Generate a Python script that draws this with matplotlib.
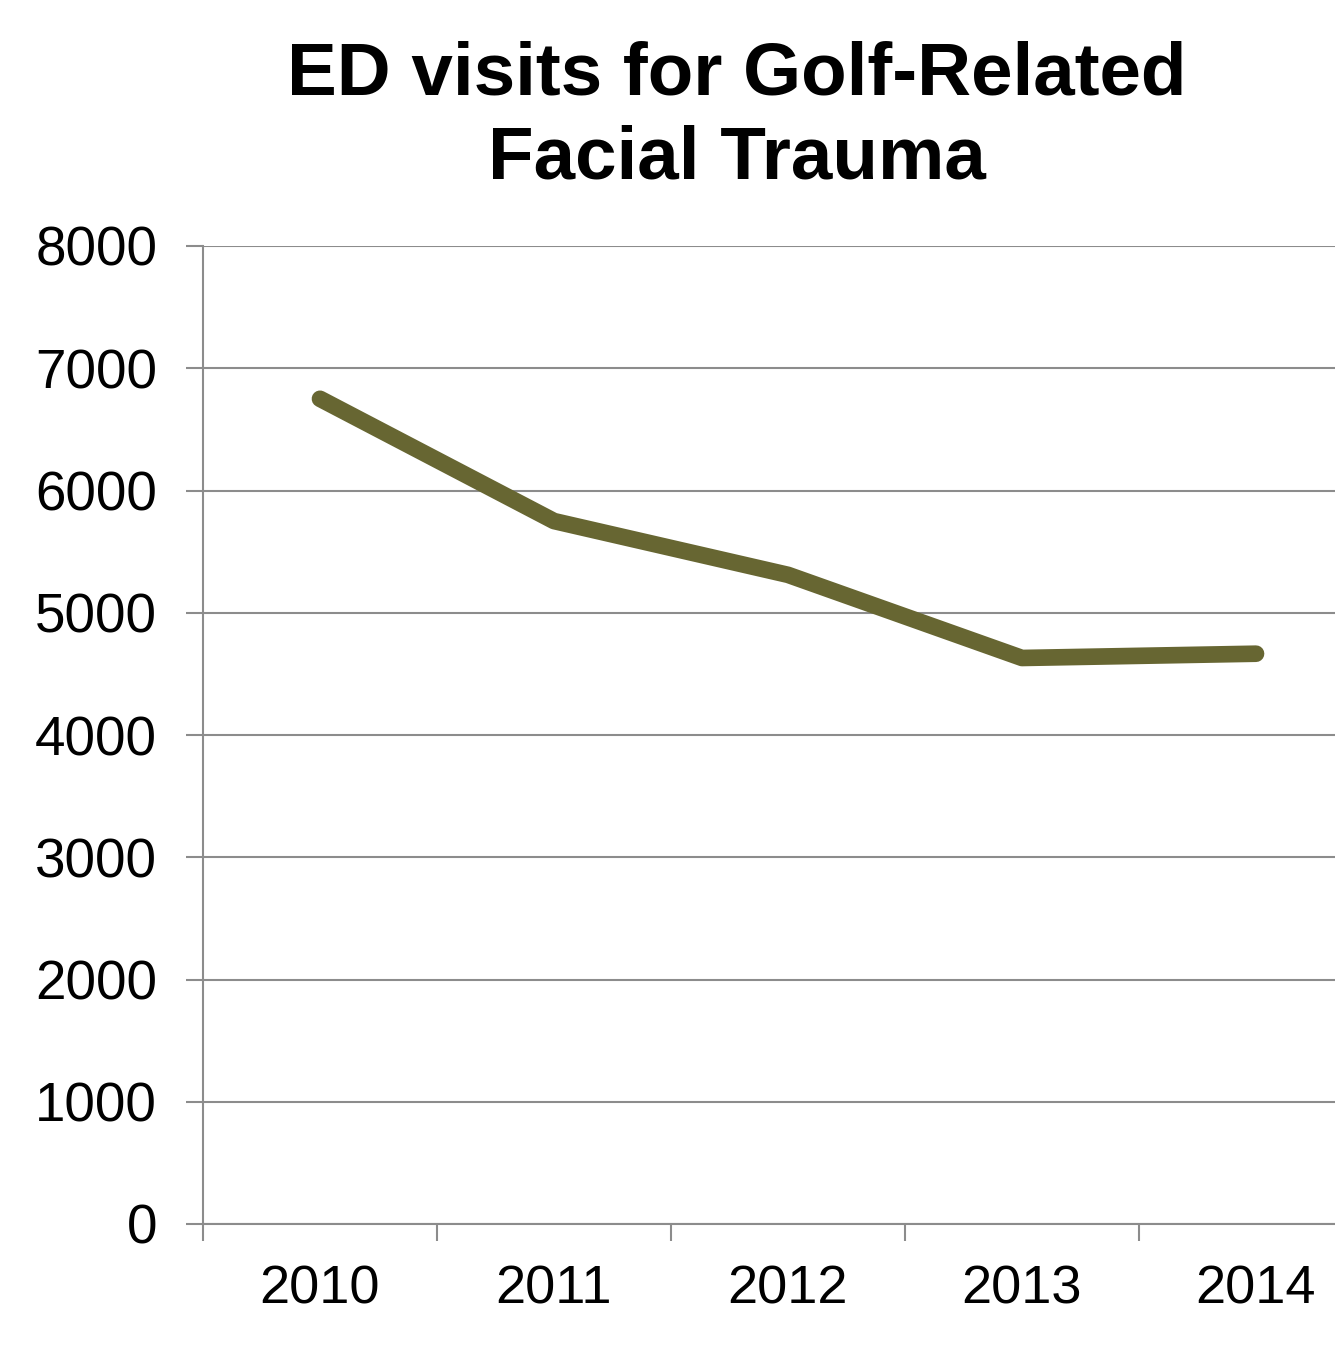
import matplotlib
matplotlib.use('Agg')
import matplotlib.pyplot as plt

# === Daten ===
years = ['2010', '2011', '2012', '2013', '2014']
visits = [6750, 5750, 5310, 4630, 4665]
y_ticks = [0, 1000, 2000, 3000, 4000, 5000, 6000, 7000, 8000]

plt.rcParams['font.family'] = ['Liberation Sans', 'DejaVu Sans']

W, H = 1335, 1353
fig = plt.figure(figsize=(W / 100, H / 100), dpi=100)

# Plotbereich geht rechts über den Bildrand hinaus (wie im Original abgeschnitten)
left, right = 203 / W, 1373 / W
bottom, top = (H - 1224) / H, (H - 246) / H
ax = fig.add_axes([left, bottom, right - left, top - bottom])

x = list(range(len(years)))
ax.plot(x, visits, color='#676632', linewidth=12, solid_capstyle='round',
        solid_joinstyle='round', zorder=3)

ax.set_xlim(-0.5, len(years) - 0.5)
ax.set_ylim(0, 8000)
ax.set_yticks(y_ticks)
ax.set_yticklabels([str(v) for v in y_ticks], fontsize=39.5)
ax.yaxis.grid(True, color='#8c8c8c', linewidth=1.5)
ax.set_axisbelow(True)

# Kategorie-Ticks zwischen den Jahren, Beschriftung in der Mitte
ax.set_xticks([i - 0.5 for i in range(len(years) + 1)])
ax.set_xticklabels([])
ax.set_xticks(x, minor=True)
ax.set_xticklabels(years, minor=True, fontsize=39)
ax.tick_params(axis='x', which='minor', length=0, pad=29)
ax.tick_params(axis='x', which='major', length=12, width=1.5, color='#8c8c8c')
ax.tick_params(axis='y', length=12, width=1.5, color='#8c8c8c', pad=21)

for s in ['top', 'right']:
    ax.spines[s].set_visible(False)
for s in ['left', 'bottom']:
    ax.spines[s].set_color('#8c8c8c')
    ax.spines[s].set_linewidth(1.5)

fig.text(737 / W, 1 - 117 / H, 'ED visits for Golf-Related\nFacial Trauma',
         ha='center', va='center', fontsize=53.7, fontweight='bold',
         linespacing=1.27)

plt.savefig('out.png', dpi=100)
